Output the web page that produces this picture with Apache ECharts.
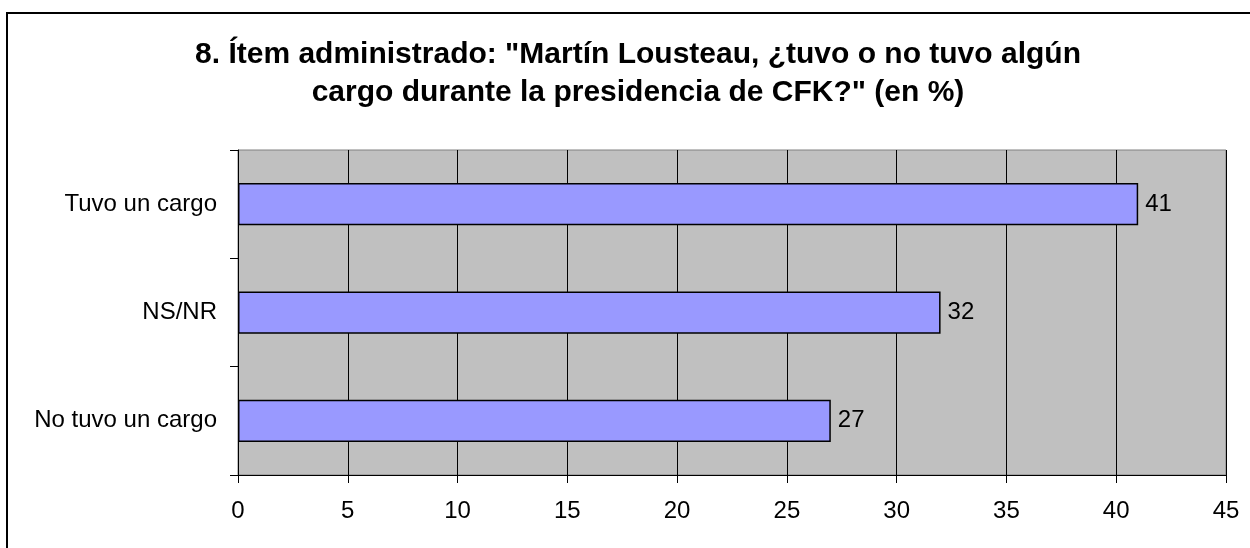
<!DOCTYPE html>
<html>
<head>
<meta charset="utf-8">
<script src="https://cdn.jsdelivr.net/npm/echarts@6/dist/echarts.min.js"></script>
<style>
html,body{margin:0;padding:0;background:#fff;}
#chart{width:1250px;height:548px;}
</style>
</head>
<body>
<div id="chart"></div>
<script>
var titleText = '8. Ítem administrado: "Martín Lousteau, ¿tuvo o no tuvo algún\ncargo durante la presidencia de CFK?" (en %)';
var categories = ['Tuvo un cargo', 'NS/NR', 'No tuvo un cargo'];
var values = [41, 32, 27];
var xMin = 0, xMax = 45, xStep = 5;

var chart = echarts.init(document.getElementById('chart'), null, {renderer: 'canvas'});
var FONT = '"Liberation Sans", Arial, sans-serif';
chart.setOption({
  animation: false,
  backgroundColor: '#ffffff',
  textStyle: {fontFamily: FONT},
  title: {
    text: titleText,
    left: 633,
    textAlign: 'center',
    top: 31,
    textStyle: {fontFamily: FONT, fontSize: 30, fontWeight: 'bold', color: '#000', lineHeight: 38}
  },
  graphic: [{
    type: 'rect',
    shape: {x: 7, y: 13, width: 1300, height: 600},
    style: {fill: 'none', stroke: '#000', lineWidth: 2},
    silent: true
  }],
  grid: {
    left: 238, top: 150, right: 24, bottom: 73,
    show: true, backgroundColor: '#C0C0C0', borderColor: '#808080', borderWidth: 1,
    containLabel: false
  },
  xAxis: {
    type: 'value', min: xMin, max: xMax, interval: xStep,
    axisLine: {show: true, lineStyle: {color: '#000', width: 1}},
    axisTick: {show: true, length: 8, lineStyle: {color: '#000'}},
    axisLabel: {fontFamily: FONT, fontSize: 24, color: '#000', margin: 24},
    splitLine: {show: true, lineStyle: {color: '#000', width: 1}}
  },
  yAxis: {
    type: 'category', data: categories, inverse: true,
    axisLine: {show: true, lineStyle: {color: '#000', width: 1}},
    axisTick: {show: true, length: 8, lineStyle: {color: '#000'}},
    axisLabel: {fontFamily: FONT, fontSize: 24, color: '#000', margin: 21},
    splitLine: {show: false}
  },
  series: [{
    type: 'bar',
    data: values,
    barCategoryGap: '61%',
    itemStyle: {color: '#9999FF', borderColor: '#000', borderWidth: 1.5},
    label: {show: true, position: 'right', distance: 7, fontFamily: FONT, fontSize: 24, color: '#000'}
  }]
});
</script>
</body>
</html>
